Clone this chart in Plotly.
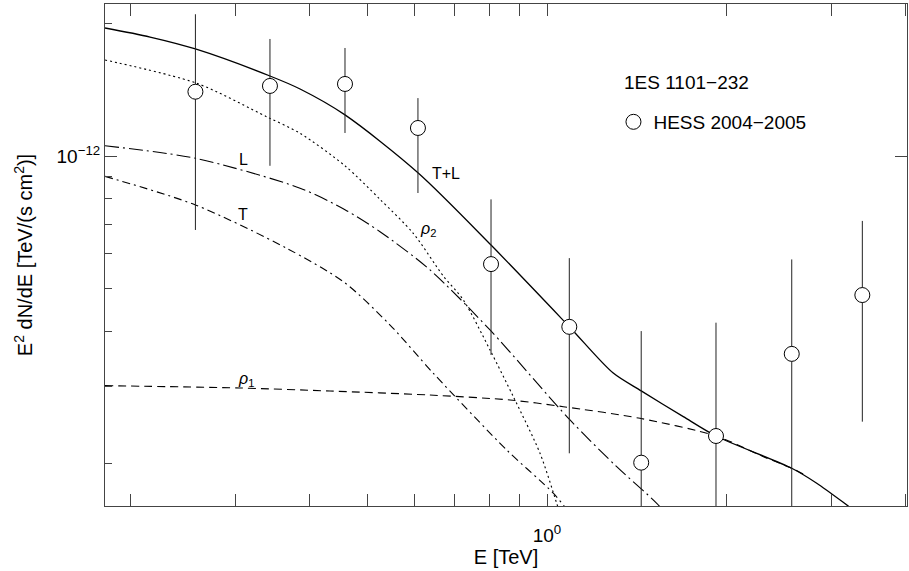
import plotly.graph_objects as go

# ---- data (E in TeV, E^2 dN/dE in TeV/(s cm^2)) ----
hess_E = [0.2571, 0.3429, 0.4582, 0.6074, 0.8055, 1.090, 1.439, 1.921, 2.574, 3.381]
hess_F = [1.400e-12, 1.443e-12, 1.458e-12, 1.158e-12, 0.568e-12, 0.409e-12,
          0.2009e-12, 0.231e-12, 0.355e-12, 0.483e-12]
hess_hi = [2.10e-12, 1.845e-12, 1.760e-12, 1.354e-12, 0.797e-12, 0.586e-12,
           0.400e-12, 0.418e-12, 0.582e-12, 0.712e-12]
hess_lo = [0.679e-12, 0.950e-12, 1.128e-12, 0.824e-12, 0.353e-12, 0.211e-12,
           0.10e-12, 0.10e-12, 0.10e-12, 0.249e-12]

tl_E = [0.1813, 0.2158, 0.2571, 0.3429, 0.3852, 0.4582, 0.6074, 0.8055, 1.090, 1.290,
        1.439, 1.693, 1.921, 2.574, 2.835, 3.202, 3.621]
tl_F = [1.954e-12, 1.864e-12, 1.751e-12, 1.520e-12, 1.420e-12, 1.240e-12, 0.9163e-12,
        0.6275e-12, 0.4093e-12, 0.3215e-12, 0.2925e-12, 0.2556e-12, 0.2310e-12,
        0.1951e-12, 0.1804e-12, 0.1601e-12, 0.1413e-12]

rho2_E = [0.1813, 0.2585, 0.3386, 0.3852, 0.4582, 0.5246, 0.5965, 0.6699, 0.7237,
          0.8024, 0.8780, 0.9733, 1.0382, 1.072]
rho2_F = [1.653e-12, 1.463e-12, 1.228e-12, 1.126e-12, 0.950e-12, 0.797e-12, 0.667e-12,
          0.5336e-12, 0.4708e-12, 0.3623e-12, 0.2838e-12, 0.2110e-12, 0.1624e-12, 0.1413e-12]

L_E = [0.1813, 0.2571, 0.3852, 0.4582, 0.5246, 0.6364, 0.8024, 1.0929, 1.309, 1.528, 1.671]
L_F = [1.055e-12, 0.988e-12, 0.845e-12, 0.755e-12, 0.673e-12, 0.5508e-12, 0.4023e-12,
       0.2512e-12, 0.1967e-12, 0.1624e-12, 0.1413e-12]

T_E = [0.1813, 0.2571, 0.3659, 0.4582, 0.5453, 0.6447, 0.8557, 1.0246, 1.114]
T_F = [0.899e-12, 0.774e-12, 0.617e-12, 0.5146e-12, 0.4129e-12, 0.3207e-12,
       0.2147e-12, 0.1712e-12, 0.1489e-12]

rho1_E = [0.1813, 0.3054, 0.4324, 0.6364, 0.8667, 1.0650, 1.432, 1.921, 2.307, 2.574, 2.710]
rho1_F = [0.3006e-12, 0.2970e-12, 0.2923e-12, 0.2862e-12, 0.2789e-12, 0.2693e-12,
          0.2534e-12, 0.2310e-12, 0.2073e-12, 0.1951e-12, 0.1884e-12]

x_major = [1.0]
x_major_text = ["10<sup>0</sup>"]
x_minor = [0.2, 0.3, 0.4, 0.5, 0.6, 0.7, 0.8, 0.9, 2, 3, 4]
y_major = [1e-12]
y_major_text = ["10<sup>−12</sup>"]
y_minor = [2e-12, 0.9e-12, 0.8e-12, 0.7e-12, 0.6e-12, 0.5e-12, 0.4e-12, 0.3e-12, 0.2e-12]

FONT = "Liberation Sans, Arial, sans-serif"
AX = "#444444"
XR = [-0.7416, 0.604]
YR = [-12.7955, -11.6545]

fig = go.Figure()

def curve(E, F, dash, width=1.1):
    fig.add_trace(go.Scatter(x=E, y=F, mode="lines", showlegend=False,
                             line=dict(color="black", width=width, dash=dash,
                                       shape="spline", smoothing=0.8),
                             hoverinfo="skip"))

curve(rho1_E, rho1_F, "8px,5px")
curve(T_E, T_F, "8px,4px,2px,4px")
curve(L_E, L_F, "14px,4px,2px,4px")
curve(rho2_E, rho2_F, "2px,3px")
curve(tl_E, tl_F, "solid", 1.3)

fig.add_trace(go.Scatter(
    x=hess_E, y=hess_F, mode="markers", name="HESS 2004−2005",
    marker=dict(symbol="circle", size=15, color="white", line=dict(color="black", width=1)),
    error_y=dict(type="data", symmetric=False,
                 array=[h - f for h, f in zip(hess_hi, hess_F)],
                 arrayminus=[f - l for f, l in zip(hess_F, hess_lo)],
                 color="#222222", thickness=1, width=0),
    showlegend=True))

# empty trace to carry the right-hand axis (major tick only)
fig.add_trace(go.Scatter(x=[], y=[], yaxis="y2", showlegend=False, hoverinfo="skip"))

lab = dict(font=dict(family=FONT, size=16, color="black"), showarrow=False,
           xref="x", yref="y")
fig.add_annotation(x=-0.51, y=-12.009, text="L", **lab)
fig.add_annotation(x=-0.51, y=-12.134, text="T", **lab)
fig.add_annotation(x=-0.170, y=-12.039, text="T+L", **lab)
fig.add_annotation(x=-0.20, y=-12.168, text="<i>ρ</i><sub>2</sub>", **lab)
fig.add_annotation(x=-0.505, y=-12.509, text="<i>ρ</i><sub>1</sub>", **lab)
fig.add_annotation(x=0.6446, y=0.8446, xref="paper", yref="paper", xanchor="left",
                   yanchor="middle", text="1ES 1101−232", showarrow=False,
                   font=dict(family=FONT, size=19, color="black"))

axis_common = dict(type="log", showgrid=False, zeroline=False, showline=True,
                   linecolor=AX, linewidth=1, ticks="inside",
                   tickcolor=AX, tickwidth=1, ticklen=12,
                   tickfont=dict(family=FONT, size=19, color="black"))

fig.update_xaxes(**axis_common, mirror="allticks", range=XR, tickmode="array",
                 tickvals=x_major, ticktext=x_major_text, ticklabelstandoff=12,
                 minor=dict(tickmode="array", tickvals=x_minor, ticks="inside",
                            ticklen=7, tickcolor=AX, tickwidth=1, showgrid=False),
                 title=dict(text="E [TeV]", font=dict(family=FONT, size=20, color="black"),
                            standoff=0))
fig.update_layout(
    yaxis=dict(**axis_common, mirror=False, range=YR, tickmode="array",
               tickvals=y_major, ticktext=y_major_text,
               minor=dict(tickmode="array", tickvals=y_minor, ticks="inside",
                          ticklen=7, tickcolor=AX, tickwidth=1, showgrid=False),
               title=dict(text="E<sup>2</sup> dN/dE [TeV/(s cm<sup>2</sup>)]",
                          font=dict(family=FONT, size=20, color="black"), standoff=18)),
    yaxis2=dict(type="log", overlaying="y", side="right", range=YR, showgrid=False,
                zeroline=False, showline=True, linecolor=AX, linewidth=1,
                ticks="inside", tickcolor=AX, tickwidth=1, ticklen=12,
                tickmode="array", tickvals=y_major, showticklabels=False),
)

fig.update_layout(
    width=909, height=571, plot_bgcolor="white", paper_bgcolor="white",
    margin=dict(l=105, r=2, t=4, b=65),
    font=dict(family=FONT, size=19, color="black"),
    legend=dict(x=0.634, y=0.765, xanchor="left", yanchor="middle",
                bgcolor="rgba(0,0,0,0)", borderwidth=0,
                font=dict(family=FONT, size=19, color="black")),
)

fig.write_html("out.html")
